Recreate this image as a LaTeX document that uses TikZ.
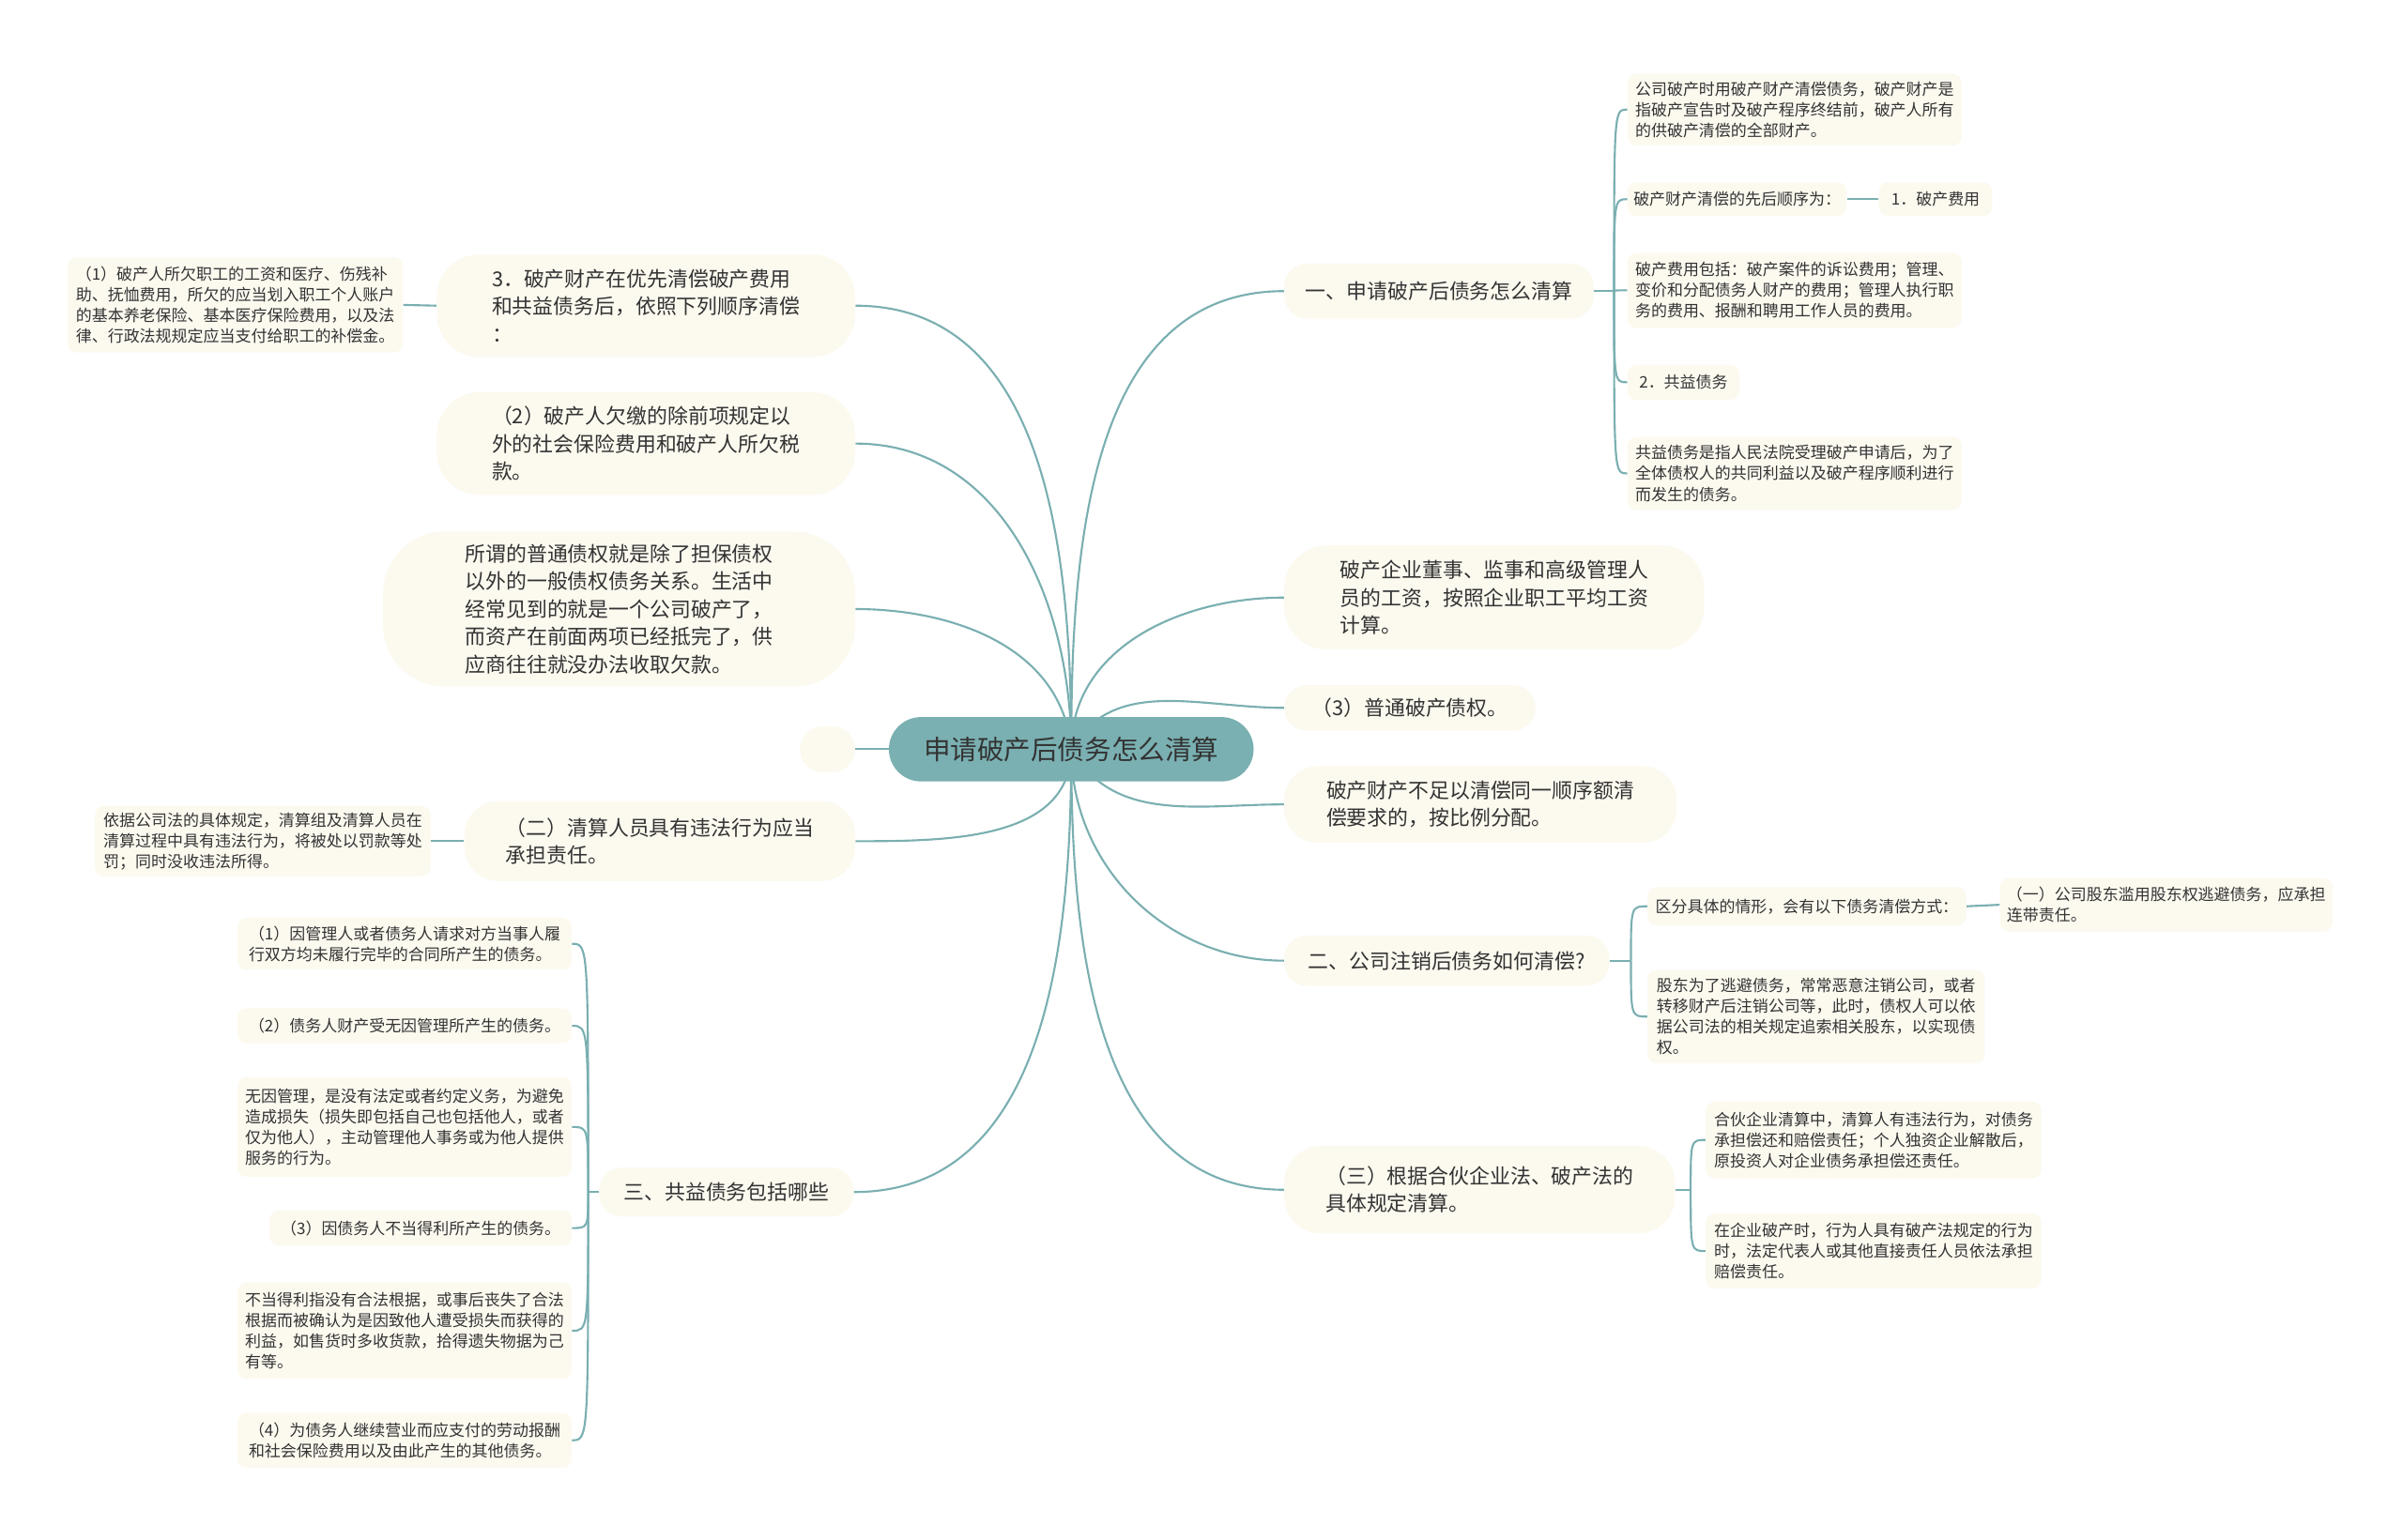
\documentclass[tikz,border=0pt]{standalone}
\usepackage{fontspec}
\setmainfont{Noto Sans CJK SC}
\usetikzlibrary{backgrounds}
\definecolor{cream}{RGB}{252,249,239}
\definecolor{tealline}{RGB}{122,175,177}
\definecolor{rootfill}{RGB}{122,176,178}
\definecolor{ink}{RGB}{51,51,51}
\tikzset{
  topic/.style={fill=cream,text=ink,rounded corners=15pt,inner sep=0pt,align=left,font=\fontsize{13.4}{18}\selectfont},
  leaf/.style={fill=cream,text=ink,rounded corners=6pt,inner sep=0pt,align=left,font=\fontsize{10.4}{13.5}\selectfont},
  link/.style={draw=tealline,line width=1.3pt},
  brace/.style={to path={.. controls (\tikztostart |- \tikztotarget) .. (\tikztotarget)}}
}

\begin{document}
\begin{tikzpicture}[x=1pt,y=1pt]
\useasboundingbox (0,0) rectangle (1568,-1005);
%root
\node[fill=rootfill,text=ink,rounded corners=21pt,minimum width=238,minimum height=42,inner sep=0pt,font=\fontsize{17.5}{20}\selectfont] (root) at (699,-489) {申请破产后债务怎么清算};
\node[fill=cream,rounded corners=15pt,minimum width=36,minimum height=30,inner sep=0pt] (blob) at (540,-489) {};
% right side
\node[topic,minimum width=202,minimum height=36] (r1) at (939,-190) {一、申请破产后债务怎么清算};
\node[topic,rounded corners=28pt,minimum width=274,minimum height=68] (r2) at (975,-390) {破产企业董事、监事和高级管理人\\员的工资，按照企业职工平均工资\\计算。};
\node[topic,minimum width=164,minimum height=30] (r3) at (920,-462) {（3）普通破产债权。};
\node[topic,rounded corners=22pt,minimum width=256,minimum height=50] (r4) at (966,-525) {破产财产不足以清偿同一顺序额清\\偿要求的，按比例分配。};
\node[topic,minimum width=212,minimum height=33] (r5) at (944,-627) {二、公司注销后债务如何清偿?};
\node[topic,rounded corners=24pt,minimum width=255,minimum height=57] (r6) at (965.5,-776.5) {（三）根据合伙企业法、破产法的\\具体规定清算。};
\node[leaf,minimum width=218,minimum height=47] (a1) at (1171,-71.5) {公司破产时用破产财产清偿债务，破产财产是\\指破产宣告时及破产程序终结前，破产人所有\\的供破产清偿的全部财产。};
\node[leaf,minimum width=143,minimum height=22] (a2) at (1133.5,-130) {破产财产清偿的先后顺序为：};
\node[leaf,minimum width=74,minimum height=22] (a2x) at (1263,-130) {1．破产费用};
\node[leaf,minimum width=218,minimum height=49] (a3) at (1171,-189.5) {破产费用包括：破产案件的诉讼费用；管理、\\变价和分配债务人财产的费用；管理人执行职\\务的费用、报酬和聘用工作人员的费用。};
\node[leaf,minimum width=73,minimum height=23] (a4) at (1098.5,-249.5) {2．共益债务};
\node[leaf,minimum width=218,minimum height=48] (a5) at (1171,-309) {共益债务是指人民法院受理破产申请后，为了\\全体债权人的共同利益以及破产程序顺利进行\\而发生的债务。};
\node[leaf,minimum width=208,minimum height=25] (c1) at (1179,-591.5) {区分具体的情形，会有以下债务清偿方式：};
\node[leaf,minimum width=217,minimum height=35] (c1x) at (1413.5,-590.5) {（一）公司股东滥用股东权逃避债务，应承担\\连带责任。};
\node[leaf,minimum width=220,minimum height=61] (c2) at (1185,-663.5) {股东为了逃避债务，常常恶意注销公司，或者\\转移财产后注销公司等，此时，债权人可以依\\据公司法的相关规定追索相关股东，以实现债\\权。};
\node[leaf,minimum width=219,minimum height=50] (d1) at (1222.5,-744) {合伙企业清算中，清算人有违法行为，对债务\\承担偿还和赔偿责任；个人独资企业解散后，\\原投资人对企业债务承担偿还责任。};
\node[leaf,minimum width=219,minimum height=49] (d2) at (1222.5,-816.5) {在企业破产时，行为人具有破产法规定的行为\\时，法定代表人或其他直接责任人员依法承担\\赔偿责任。};
% left side
\node[topic,rounded corners=28pt,minimum width=273,minimum height=67] (l1) at (421.5,-199.5) {3．破产财产在优先清偿破产费用\\和共益债务后，依照下列顺序清偿\\：};
\node[topic,rounded corners=28pt,minimum width=273,minimum height=67] (l2) at (421.5,-289.5) {（2）破产人欠缴的除前项规定以\\外的社会保险费用和破产人所欠税\\款。};
\node[topic,rounded corners=40pt,minimum width=308,minimum height=101] (l3) at (404,-397.5) {所谓的普通债权就是除了担保债权\\以外的一般债权债务关系。生活中\\经常见到的就是一个公司破产了，\\而资产在前面两项已经抵完了，供\\应商往往就没办法收取欠款。};
\node[topic,rounded corners=22pt,minimum width=255,minimum height=52] (l4) at (430.5,-549) {（二）清算人员具有违法行为应当\\承担责任。};
\node[topic,minimum width=166,minimum height=32] (l5) at (474,-778) {三、共益债务包括哪些};
\node[leaf,minimum width=219,minimum height=62] (k1) at (153.5,-199) {（1）破产人所欠职工的工资和医疗、伤残补\\助、抚恤费用，所欠的应当划入职工个人账户\\的基本养老保险、基本医疗保险费用，以及法\\律、行政法规规定应当支付给职工的补偿金。};
\node[leaf,minimum width=219,minimum height=46] (m1) at (171.5,-549) {依据公司法的具体规定，清算组及清算人员在\\清算过程中具有违法行为，将被处以罚款等处\\罚；同时没收违法所得。};
\node[leaf,minimum width=218,minimum height=34] (b1) at (264,-616) {（1）因管理人或者债务人请求对方当事人履\\行双方均未履行完毕的合同所产生的债务。};
\node[leaf,minimum width=218,minimum height=23] (b2) at (264,-669.5) {（2）债务人财产受无因管理所产生的债务。};
\node[leaf,minimum width=218,minimum height=65] (b3) at (264,-735.5) {无因管理，是没有法定或者约定义务，为避免\\造成损失（损失即包括自己也包括他人，或者\\仅为他人），主动管理他人事务或为他人提供\\服务的行为。};
\node[leaf,minimum width=197,minimum height=23] (b4) at (274.5,-801.5) {（3）因债务人不当得利所产生的债务。};
\node[leaf,minimum width=218,minimum height=63] (b5) at (264,-868.5) {不当得利指没有合法根据，或事后丧失了合法\\根据而被确认为是因致他人遭受损失而获得的\\利益，如售货时多收货款，拾得遗失物据为己\\有等。};
\node[leaf,minimum width=218,minimum height=36] (b6) at (264,-940) {（4）为债务人继续营业而应支付的劳动报酬\\和社会保险费用以及由此产生的其他债务。};
% connectors
\begin{scope}[on background layer]
\fill[white] (0,0) rectangle (1568,-1005);
\draw[link] (root.center) to[out=90,in=180] (r1.west);
\draw[link] (root.center) to[out=90,in=180] (r2.west);
\draw[link] (root.center) to[out=60,in=180] (r3.west);
\draw[link] (root.center) to[out=-60,in=180] (r4.west);
\draw[link] (root.center) to[out=-90,in=180] (r5.west);
\draw[link] (root.center) to[out=-90,in=180] (r6.west);
\draw[link] (root.center) to[out=90,in=0] (l1.east);
\draw[link] (root.center) to[out=90,in=0] (l2.east);
\draw[link] (root.center) to[out=95,in=0] (l3.east);
\draw[link] (root.west) -- (blob.east);
\draw[link] (root.center) to[out=-90,in=0] (l4.east);
\draw[link] (root.center) to[out=-90,in=0] (l5.east);
% brackets
\draw[link] (r1.east) -- ++(13,0) coordinate (r1j);
\foreach \n in {a1,a2,a3,a4,a5}{
\draw[link] (r1j) to[brace] (\n.west);
}
\draw[link] (a2.east) -- (a2x.west);
\draw[link] (r5.east) -- ++(14,0) coordinate (r5j);
\foreach \n in {c1,c2}{
\draw[link] (r5j) to[brace] (\n.west);
}
\draw[link] (c1.east) -- (c1x.west);
\draw[link] (r6.east) -- ++(10,0) coordinate (r6j);
\foreach \n in {d1,d2}{
\draw[link] (r6j) to[brace] (\n.west);
}
\draw[link] (l1.west) -- (k1.east);
\draw[link] (l4.west) -- (m1.east);
\draw[link] (l5.west) -- ++(-7,0) coordinate (l5j);
\foreach \n in {b1,b2,b3,b4,b5,b6}{
\draw[link] (l5j) to[brace] (\n.east);
}
\end{scope}
\end{tikzpicture}
\end{document}
